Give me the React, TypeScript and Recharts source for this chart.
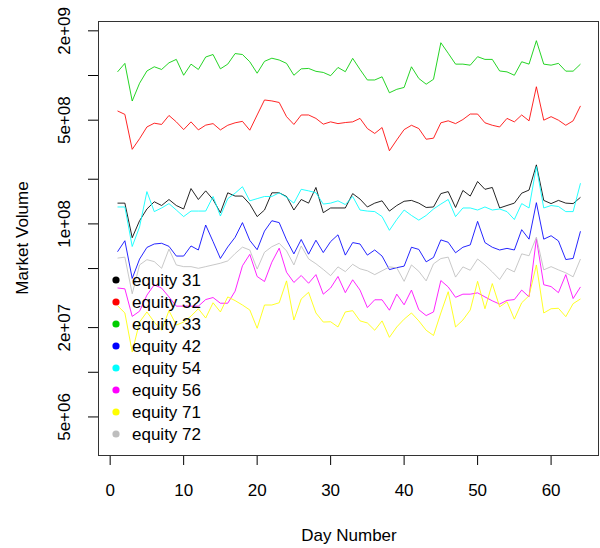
import { LineChart, Line, XAxis, YAxis, Legend } from "recharts";

// trading days 1..64
const days = Array.from({ length: 64 }, (_, i) => i + 1);

// daily market volume, in millions
const equity31 = [138, 138, 80.7, 105, 126, 141, 133, 146, 133, 126, 173, 146, 167, 146, 119, 162, 154, 154, 136, 112, 124, 162, 162, 153, 124, 146, 138, 176, 119, 128, 128, 128, 160, 147, 130, 138, 143, 122, 133, 142, 144, 138, 129, 130, 160, 165, 129, 168, 154, 193, 171, 176, 128, 133, 138, 161, 169, 250, 144, 137, 144, 138, 137, 151];
const equity32 = [577, 547, 318, 375, 450, 477, 468, 538, 487, 432, 487, 430, 463, 474, 430, 462, 480, 491, 428, 542, 684, 674, 658, 528, 468, 542, 542, 514, 470, 487, 474, 482, 487, 514, 439, 407, 446, 311, 368, 432, 462, 439, 372, 378, 480, 495, 474, 505, 550, 550, 480, 462, 450, 514, 487, 542, 495, 840, 500, 528, 500, 462, 495, 624];
const equity33 = [1058, 1207, 673, 887, 1073, 1145, 1098, 1218, 1284, 1004, 1193, 1098, 1333, 1385, 1109, 1193, 1406, 1385, 1238, 1036, 1246, 1308, 1272, 1207, 1004, 1109, 1116, 1067, 1049, 997, 1133, 1061, 1305, 1098, 933, 933, 980, 765, 807, 831, 1145, 955, 874, 943, 1663, 1412, 1193, 1193, 1174, 1339, 1284, 1284, 1073, 1058, 1004, 1238, 1193, 1717, 1193, 1174, 1207, 1070, 1070, 1193];
const equity42 = [64.9, 77, 42.9, 57.9, 69.4, 73.2, 74, 70.6, 60.7, 60.7, 71, 66.7, 98.2, 76, 58.5, 69.9, 81.2, 102, 77.4, 67, 89.4, 105, 102, 78, 62.8, 78.5, 62.5, 77.6, 64.1, 76, 84.4, 61.6, 74.8, 73.2, 61.6, 66.7, 60.7, 49.2, 50.7, 51.9, 69.6, 67.3, 55.5, 59.4, 78, 75.2, 63.9, 69.6, 72.2, 104, 74.8, 69.6, 66.7, 68.4, 66.7, 91.4, 78.9, 139, 78.9, 83.2, 76.8, 57.5, 58.5, 89.2];
const equity54 = [130, 130, 70.4, 95.5, 165, 121, 128, 137, 124, 112, 122, 122, 122, 153, 113, 148, 161, 178, 143, 148, 153, 153, 162, 151, 138, 171, 167, 162, 136, 138, 143, 135, 153, 124, 122, 121, 112, 90.5, 107, 124, 114, 106, 114, 126, 136, 146, 112, 128, 128, 124, 130, 124, 126, 121, 107, 137, 128, 243, 128, 133, 131, 121, 121, 188];
const equity56 = [37, 36.5, 23.8, 25.8, 33.1, 38.9, 36.9, 32.2, 27.9, 27.9, 27.9, 27.9, 30.9, 31.9, 29.2, 29.2, 35.2, 52.2, 62.3, 44.2, 40.9, 55.2, 68.6, 47.2, 40.3, 44.9, 39.8, 45.5, 33.6, 37, 44.2, 34.4, 42, 35.8, 27.3, 30.8, 30.8, 26.2, 33.6, 28.5, 35.8, 26.4, 24.1, 25.5, 41.5, 37.6, 32, 33.6, 33.6, 34.3, 32.2, 30.3, 28.8, 30.5, 30.9, 35.8, 32.2, 79.4, 38.9, 37.8, 34.4, 45.5, 31.4, 37.6];
const equity71 = [28.1, 25.1, 13.7, 21.8, 25.5, 21.8, 19.2, 26, 20.8, 21.8, 23.9, 26.8, 23.2, 29.4, 25.5, 32.2, 30.4, 28.4, 26.3, 19.8, 28.4, 28.4, 29.4, 41.3, 22.5, 31.2, 34.6, 25.1, 21.8, 21.9, 20.2, 25.5, 26, 22.2, 21.5, 19.2, 22.2, 17.2, 20.2, 22.8, 25.1, 22.2, 19.2, 17.7, 25.1, 34.9, 20.2, 22.5, 26.3, 41, 26.8, 39.6, 27.6, 29.9, 22.8, 29.4, 32.8, 52.9, 25.1, 26.8, 27, 23.7, 29, 31.2];
const equity72 = [58.8, 59.7, 33.8, 52.9, 57.4, 55.7, 50.2, 67.6, 52.9, 51.5, 51.5, 50.2, 51.5, 52.9, 54.3, 56.3, 63.1, 69.7, 66.7, 49.6, 64.4, 70.2, 74, 65.8, 52.9, 71, 58.1, 53.9, 49.3, 44.8, 51.3, 47.7, 53.4, 49.8, 48.3, 45.5, 48.3, 51.3, 50.6, 41, 52.9, 47.9, 41.3, 53.8, 58.4, 59.7, 43.8, 51.3, 48.7, 58, 52.9, 47.5, 42.2, 50.2, 47.5, 62.8, 61, 81.4, 49, 51.5, 49, 46.8, 44, 58];

const series = [
  { key: "e31", name: "equity 31", color: "#000000", values: equity31 },
  { key: "e32", name: "equity 32", color: "#ff0000", values: equity32 },
  { key: "e33", name: "equity 33", color: "#00cd00", values: equity33 },
  { key: "e42", name: "equity 42", color: "#0000ff", values: equity42 },
  { key: "e54", name: "equity 54", color: "#00ffff", values: equity54 },
  { key: "e56", name: "equity 56", color: "#ff00ff", values: equity56 },
  { key: "e71", name: "equity 71", color: "#ffff00", values: equity71 },
  { key: "e72", name: "equity 72", color: "#bebebe", values: equity72 },
];

const xTicks = [0, 10, 20, 30, 40, 50, 60];
const yTicks = [5, 10, 20, 50, 100, 200, 500, 1000, 2000];
const yTickLabels: Record<number, string> = {
  5: "5e+06",
  20: "2e+07",
  100: "1e+08",
  500: "5e+08",
  2000: "2e+09",
};

const rows = days.map((day, i) => {
  const row: Record<string, number> = { day };
  series.forEach((s) => (row[s.key] = s.values[i]));
  return row;
});

const FONT = "'Liberation Sans', Arial, sans-serif";

function XTick({ x, y, payload }: any) {
  return (
    <g>
      <line x1={x} x2={x} y1={y} y2={y + 10} stroke="#000" />
      <text x={x} y={y + 35} textAnchor="middle" dominantBaseline="central" fontSize={17} fontFamily={FONT} fill="#000">
        {payload.value}
      </text>
    </g>
  );
}

function YTick({ x, y, payload }: any) {
  const label = yTickLabels[payload.value];
  return (
    <g>
      <line x1={x - 11} x2={x - 1} y1={y} y2={y} stroke="#000" />
      {label && (
        <text
          x={65}
          y={y}
          transform={`rotate(-90, 65, ${y})`}
          textAnchor="middle"
          dominantBaseline="central"
          fontSize={17}
          fontFamily={FONT}
          fill="#000"
        >
          {label}
        </text>
      )}
    </g>
  );
}

function LegendBox({ payload }: any) {
  return (
    <svg width={160} height={180} style={{ display: "block" }}>
      {(payload || []).map((p: any, i: number) => (
        <g key={p.value}>
          <circle cx={8} cy={11 + i * 22} r={3.6} fill={p.color} />
          <text x={24} y={11 + i * 22} dominantBaseline="central" fontSize={17} fontFamily={FONT} fill="#000">
            {p.value}
          </text>
        </g>
      ))}
    </svg>
  );
}

export default function App() {
  return (
    <div style={{ position: "absolute", left: 0, top: 0, width: 600, height: 548, background: "#fff" }}>
      <LineChart width={600} height={548} data={rows} margin={{ top: 21, right: 1, bottom: 0, left: 0 }}>
        <XAxis
          dataKey="day"
          type="number"
          domain={[-1.52, 66.52]}
          ticks={xTicks}
          interval={0}
          allowDataOverflow
          axisLine={false}
          tickLine={false}
          tickSize={0}
          tickMargin={0}
          height={93}
          tick={<XTick />}
          label={{
            content: ({ viewBox }: any) => (
              <text
                x={viewBox.x + viewBox.width / 2}
                y={535}
                textAnchor="middle"
                dominantBaseline="central"
                fontSize={17}
                fontFamily={FONT}
                fill="#000"
              >
                Day Number
              </text>
            ),
          }}
        />
        <YAxis
          type="number"
          scale="log"
          domain={[2.77, 2330]}
          ticks={yTicks}
          interval={0}
          allowDataOverflow
          axisLine={false}
          tickLine={false}
          tickSize={0}
          tickMargin={0}
          width={99}
          tick={<YTick />}
          label={{
            content: ({ viewBox }: any) => {
              const cy = viewBox.y + viewBox.height / 2;
              return (
                <text
                  x={22}
                  y={cy}
                  transform={`rotate(-90, 22, ${cy})`}
                  textAnchor="middle"
                  dominantBaseline="central"
                  fontSize={17}
                  fontFamily={FONT}
                  fill="#000"
                >
                  Market Volume
                </text>
              );
            },
          }}
        />
        <Legend
          layout="vertical"
          align="center"
          verticalAlign="middle"
          wrapperStyle={{ left: 108, top: 269, width: 160 }}
          content={<LegendBox />}
        />
        {series.map((s) => (
          <Line
            key={s.key}
            type="linear"
            dataKey={s.key}
            name={s.name}
            stroke={s.color}
            strokeWidth={1}
            strokeOpacity={0.85}
            dot={false}
            activeDot={false}
            isAnimationActive={false}
          />
        ))}
      </LineChart>
      <div
        style={{
          position: "absolute",
          left: 98,
          top: 21,
          width: 501,
          height: 435,
          boxSizing: "border-box",
          border: "1px solid #333",
          pointerEvents: "none",
        }}
      />
    </div>
  );
}
